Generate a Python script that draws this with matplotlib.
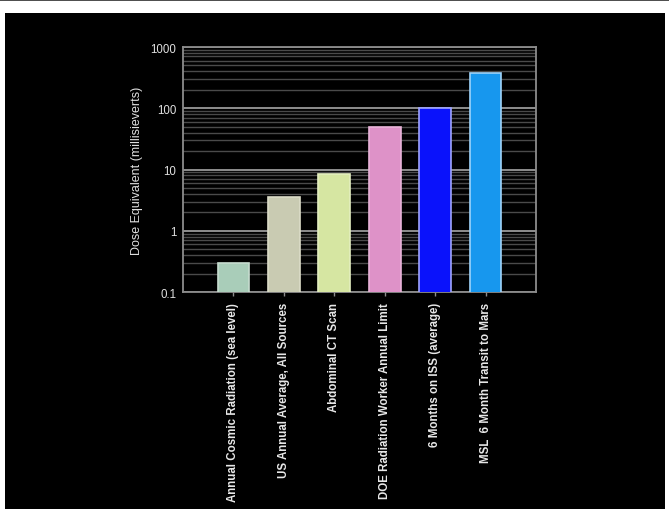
import matplotlib.pyplot as plt
from matplotlib.patches import Rectangle
from matplotlib.ticker import FixedLocator, LogLocator, NullFormatter

plt.rcParams["font.family"] = ["Liberation Sans", "DejaVu Sans"]

categories = [
    "Annual Cosmic Radiation (sea level)",
    "US Annual Average, All Sources",
    "Abdominal CT Scan",
    "DOE Radiation Worker Annual Limit",
    "6 Months on ISS (average)",
    "MSL  6 Month Transit to Mars",
]
doses = [0.3, 3.6, 8.3, 50, 100, 370]
bar_colors = ["#a9cdb9", "#c9cbb2", "#d6e6a2", "#de92c8", "#0a12fb", "#1797ee"]
edge_colors = ["#c6dccf", "#dcdcc8", "#e4efc0", "#eab4da", "#9ea4ff", "#9fd4fa"]
ytick_vals = [0.1, 1, 10, 100, 1000]
ytick_labels = ["0.1", "1", "10", "100", "1000"]

fig = plt.figure(figsize=(6.69, 5.10), dpi=100)
fig.patch.set_facecolor("white")
# black slide background
fig.add_artist(Rectangle((5 / 669, 0), 660 / 669, 496 / 510,
                         transform=fig.transFigure, facecolor="black",
                         edgecolor="none", zorder=0))
fig.add_artist(Rectangle((0, 508 / 510), 1, 2 / 510,
                         transform=fig.transFigure, facecolor="#505050",
                         edgecolor="none", zorder=0))

ax = fig.add_axes([183 / 669, 217 / 510, 353 / 669, 245 / 510])
ax.set_facecolor("black")
ax.set_yscale("log")
ax.set_ylim(0.1, 1000)
ax.set_xlim(-1, len(categories))

x = list(range(len(categories)))
ax.bar(x, doses, width=0.63, color=bar_colors, edgecolor=edge_colors,
       linewidth=1.2, zorder=3)

ax.yaxis.set_major_locator(FixedLocator(ytick_vals))
ax.set_yticklabels(ytick_labels)
ax.yaxis.set_minor_locator(LogLocator(base=10, subs=range(2, 10), numticks=20))
ax.yaxis.set_minor_formatter(NullFormatter())
ax.grid(True, which="major", axis="y", color="#999999", linewidth=1.3, zorder=1)
ax.grid(True, which="minor", axis="y", color="#4a4a4a", linewidth=1.0, zorder=1)

ax.set_xticks(x)
ax.set_xticklabels(categories, rotation=90, fontsize=8.3, fontweight="bold",
                   color="#e8e8e8", va="top", ha="center")
ax.tick_params(axis="x", colors="#8c8c8c", length=3, width=1, pad=4)
ax.tick_params(axis="x", labelcolor="#e8e8e8")
ax.tick_params(axis="y", which="both", length=0, pad=5, labelsize=8.3,
               labelcolor="#e0e0e0")

for side in ax.spines.values():
    side.set_color("#8c8c8c")
    side.set_linewidth(1.3)

ax.set_ylabel("Dose Equivalent (millisieverts)", fontsize=9,
              color="#e0e0e0", labelpad=5)

fig.savefig("out.png", dpi=100, facecolor=fig.get_facecolor())
